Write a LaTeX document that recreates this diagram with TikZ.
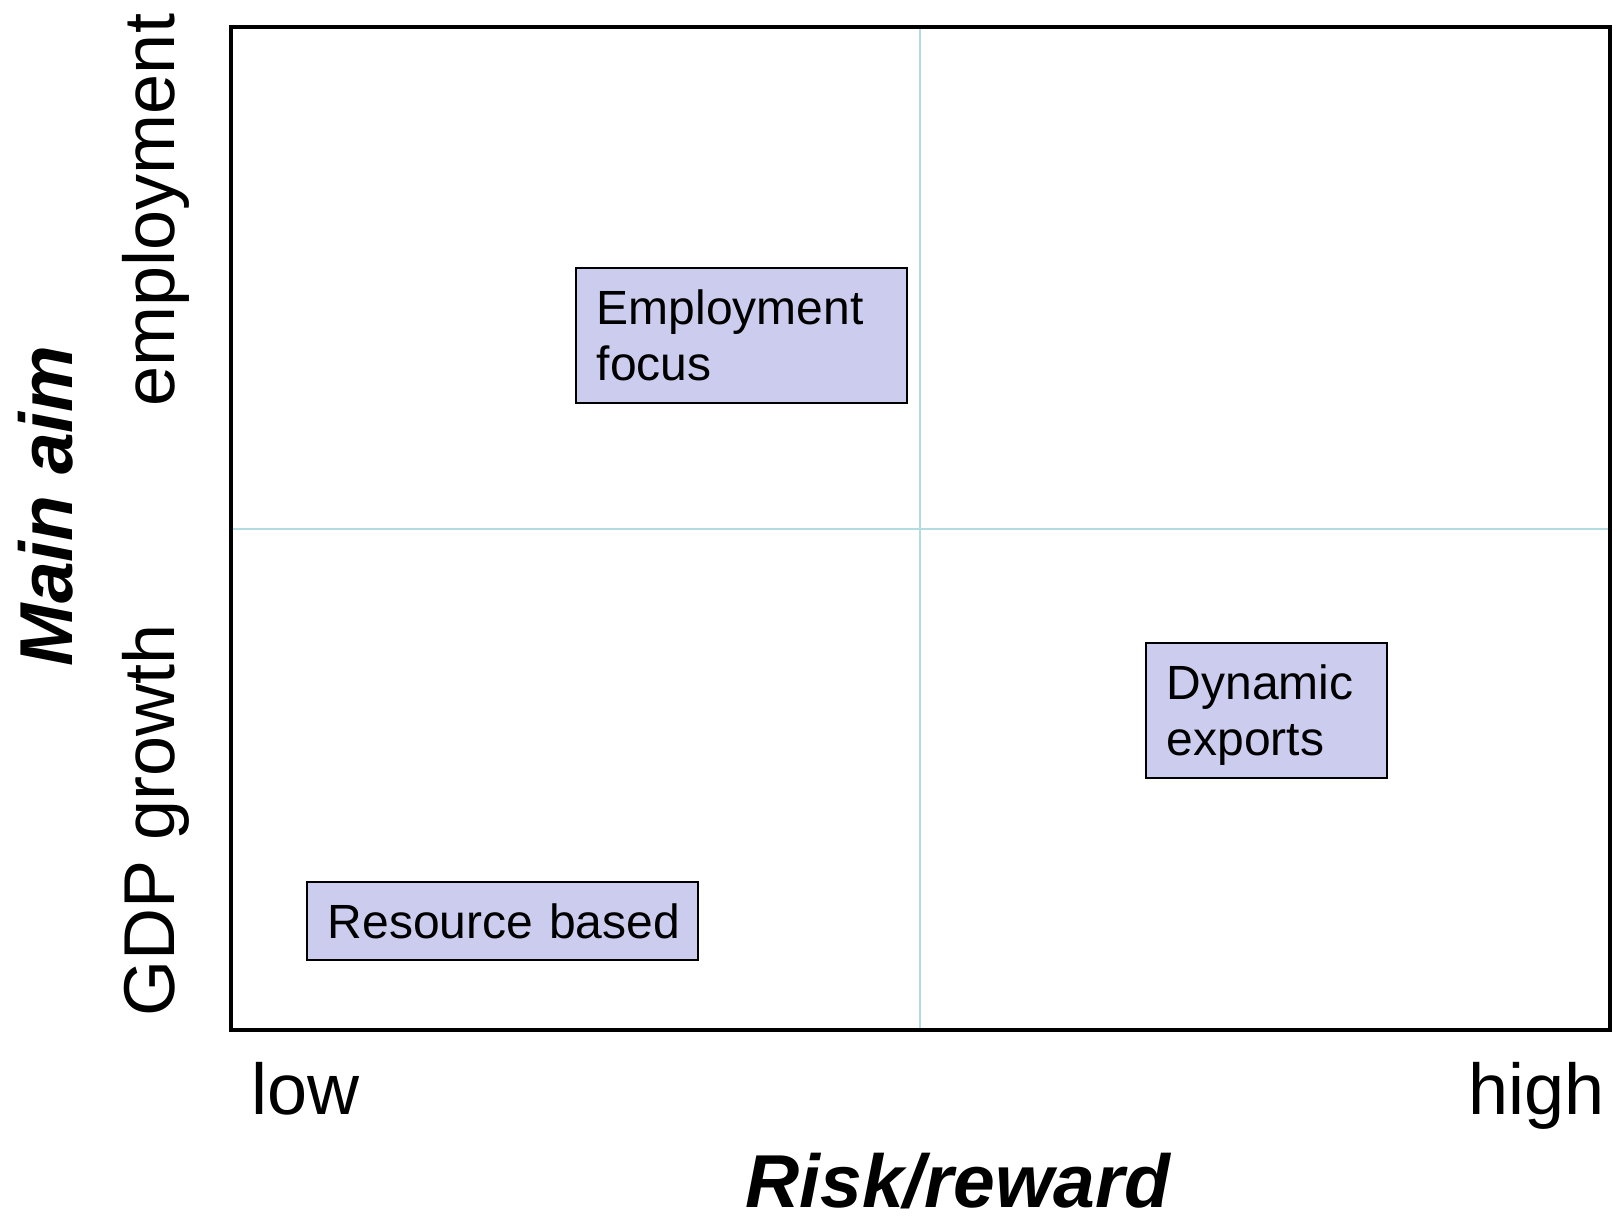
\documentclass[tikz,border=0pt]{standalone}
\usepackage{fontspec}
\setmainfont{Liberation Sans}
\usetikzlibrary{positioning}

\definecolor{boxfill}{RGB}{204,204,238}
\definecolor{gridcyan}{RGB}{178,220,224}

\newcommand{\boxfont}{\fontsize{48}{56}\selectfont}
\newcommand{\axisfont}{\fontsize{72}{80}\selectfont}
\newcommand{\titlefont}{\fontsize{75}{84}\selectfont\bfseries\itshape}

\tikzset{
  quadbox/.style = {draw = black, line width = 1.6pt, fill = boxfill,
                    anchor = north west, align = left, inner xsep = 21pt,
                    inner ysep = 0pt, font = \boxfont,
                    execute at begin node = \rule{0pt}{45pt},
                    execute at end node = \rule[-10pt]{0pt}{0pt}},
  axisword/.style = {inner sep = 0pt, font = \axisfont},
  axistitle/.style = {inner sep = 0pt, font = \titlefont}
}

\begin{document}
\begin{tikzpicture}[x = 1pt, y = -1pt]

                    \useasboundingbox (0,0) rectangle (1620,1220);

                    % frame corners and the two dividing lines
                    \coordinate (nw) at (231,27.5);
                    \coordinate (se) at (1610,1030);
                    \coordinate (top) at (920,27.5);
                    \coordinate (bot) at (920,1030);
                    \coordinate (lft) at (231,529);
                    \coordinate (rgt) at (1610,529);

                    \draw[gridcyan, line width = 1.8pt] (top) -- (bot);
                    \draw[gridcyan, line width = 1.8pt] (lft) -- (rgt);
                    \draw[line width = 4pt] (nw) rectangle (se);

                    % the three strategies
                    \node[quadbox, text width = 289pt, minimum height = 135pt] (emp) at (575,267) {Employment\\focus};
                    \node[quadbox, text width = 199pt, minimum height = 135pt] (dyn) at (1145,642) {Dynamic\\exports};
                    \node[quadbox, text width = 349pt, minimum height = 78pt] (res) at (306,881) {\mbox{Resource based}};

                    % horizontal axis
                    \node[axisword, anchor = base west] (low) at (251,1114) {low};
                    \node[axisword, anchor = base east] (high) at (1605,1114) {high};
                    \node[axistitle, anchor = base] (risk) at (958,1207) {Risk/reward};

                    % vertical axis
                    \node[axistitle, anchor = base, rotate = 90] (aim) at (72,506) {Main aim};
                    \node[axisword, anchor = base, rotate = 90] (empl) at (174,210) {employment};
                    \node[axisword, anchor = base, rotate = 90] (gdp) at (174,820) {GDP growth};
                    %  \draw[dashed] (lft) -- (rgt);

                \end{tikzpicture}
\end{document}
